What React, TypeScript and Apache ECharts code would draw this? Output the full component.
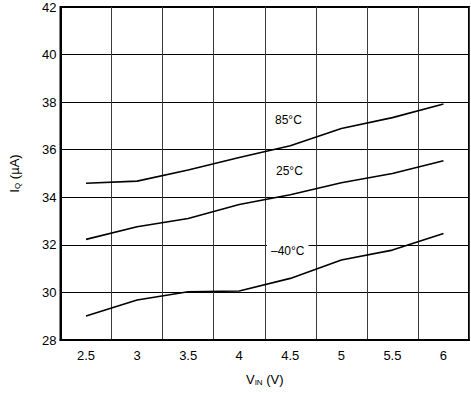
import React, { useEffect, useRef } from "react";
import * as echarts from "echarts";

const vin = [2.5, 3, 3.5, 4, 4.5, 5, 5.5, 6];
const iq85 = [34.59, 34.68, 35.15, 35.67, 36.17, 36.89, 37.35, 37.92];
const iq25 = [32.23, 32.76, 33.11, 33.7, 34.11, 34.61, 35.0, 35.54];
const iqM40 = [29.01, 29.68, 30.03, 30.06, 30.59, 31.36, 31.78, 32.48];
const xTickLabels = [2.5, 3, 3.5, 4, 4.5, 5, 5.5, 6];
const seriesNames = ["85°C", "25°C", "–40°C"];

const FONT = "'Liberation Sans', Arial, sans-serif";

export default function App() {
  const ref = useRef<HTMLDivElement>(null);
  useEffect(() => {
    if (!ref.current) return;
    const chart = echarts.init(ref.current, undefined, { renderer: "svg" });
    const mk = (name: string, ys: number[]) => ({
      name,
      type: "line",
      xAxisIndex: 0,
      yAxisIndex: 0,
      data: vin.map((v, i) => [v, ys[i]]),
      showSymbol: false,
      symbol: "none",
      lineStyle: { color: "#000", width: 1.6 },
      z: 5,
    });
    chart.setOption({
      animation: false,
      backgroundColor: "#fff",
      textStyle: { fontFamily: FONT },
      grid: {
        left: 54,
        right: 2,
        top: 7,
        bottom: 53,
        show: true,
        borderColor: "#000",
        borderWidth: 2,
        backgroundColor: "transparent",
      },
      xAxis: [
        {
          type: "value",
          min: 2.25,
          max: 6.25,
          position: "bottom",
          axisLine: { show: true, lineStyle: { color: "#000", width: 2 } },
          axisTick: { show: false },
          splitLine: { show: false },
          axisLabel: {
            customValues: xTickLabels,
            formatter: (v: number) => String(v),
            color: "#000",
            fontSize: 13,
            fontFamily: FONT,
            margin: 9,
          },
          name: "{m|V}{s|IN}{m| (V)}",
          nameLocation: "middle",
          nameGap: 32,
          nameTextStyle: {
            rich: {
              m: { fontSize: 13, color: "#000", fontFamily: FONT },
              s: { fontSize: 8, color: "#000", fontFamily: FONT, verticalAlign: "bottom", padding: [6, 0, 0, 0] },
            },
          },
        },
        {
          type: "value",
          min: 0,
          max: 8,
          interval: 1,
          position: "top",
          axisLine: { show: false },
          axisTick: { show: false },
          axisLabel: { show: false },
          splitLine: { show: true, lineStyle: { color: "#3a3a3a", width: 1 } },
        },
      ],
      yAxis: [
        {
          type: "value",
          min: 28,
          max: 42,
          interval: 2,
          axisLine: { show: true, lineStyle: { color: "#000", width: 2 } },
          axisTick: { show: false },
          splitLine: { show: true, lineStyle: { color: "#000", width: 1 } },
          axisLabel: { color: "#000", fontSize: 13, fontFamily: FONT, margin: 4 },
          name: "{m|I}{s|Q}{m| (µA)}",
          nameLocation: "middle",
          nameGap: 39,
          nameTextStyle: {
            rich: {
              m: { fontSize: 13, color: "#000", fontFamily: FONT },
              s: { fontSize: 8, color: "#000", fontFamily: FONT, verticalAlign: "bottom", padding: [6, 0, 0, 0] },
            },
          },
        },
      ],
      series: [mk(seriesNames[0], iq85), mk(seriesNames[1], iq25), mk(seriesNames[2], iqM40)],
      graphic: [
        {
          type: "text",
          left: 275,
          top: 114,
          z: 10,
          style: { text: seriesNames[0], fontSize: 12, fontFamily: FONT, fill: "#000" },
        },
        {
          type: "text",
          left: 276,
          top: 165,
          z: 10,
          style: { text: seriesNames[1], fontSize: 12, fontFamily: FONT, fill: "#000" },
        },
        {
          type: "text",
          left: 267,
          top: 244,
          z: 10,
          style: {
            text: seriesNames[2],
            fontSize: 12,
            fontFamily: FONT,
            fill: "#000",
            backgroundColor: "#fff",
            padding: [1, 4, 1, 4],
          },
        },
      ],
    });
    return () => chart.dispose();
  }, []);
  return <div ref={ref} style={{ width: 471, height: 393, position: "absolute", left: 0, top: 0 }} />;
}
